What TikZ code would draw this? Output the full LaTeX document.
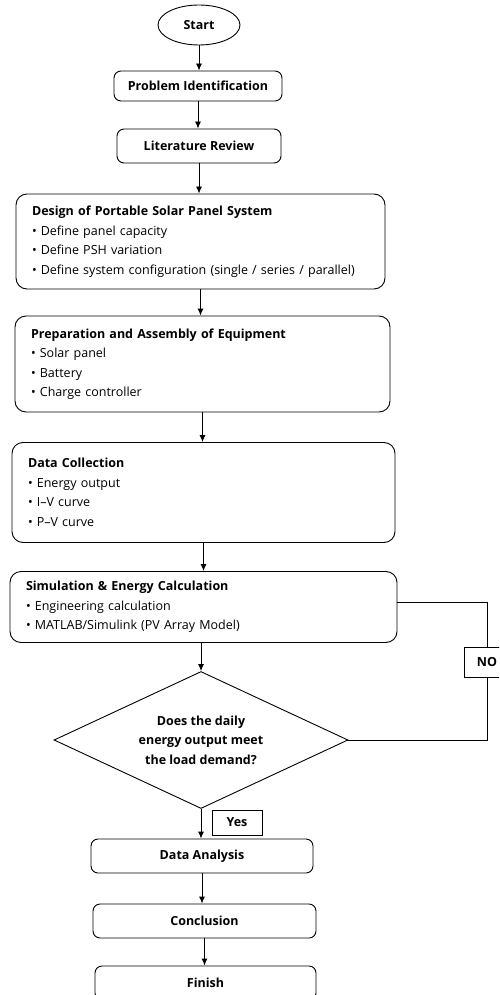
\documentclass[tikz,border=0pt]{standalone}
\usepackage{fontspec}
\setmainfont{Open Sans}
\usetikzlibrary{shapes.geometric,arrows.meta}

\begin{document}
\begin{tikzpicture}[x=1pt,y=-1pt,
	box/.style={draw, line width=0.9pt, rounded corners=7pt, inner sep=0pt, font=\fontsize{12.5}{14}\selectfont\bfseries},
	listbox/.style={draw, line width=0.9pt, rounded corners=11pt, inner xsep=16pt, inner ysep=0pt, align=left, text width=#1, font=\fontsize{12.5}{19.5}\selectfont},
	pile/.style={line width=0.9pt, -{Latex[length=7pt,width=6pt]}},
	tag/.style={draw, line width=0.9pt, inner sep=0pt, font=\fontsize{12.5}{14}\selectfont\bfseries}]

	\useasboundingbox (0,0) rectangle (499,995);
	\clip (0,0) rectangle (499,995);

	% Top of the flow
	\node[box, ellipse, minimum width=82pt, minimum height=40pt] (start) at (199,25) {Start};
	\node[box, minimum width=168pt, minimum height=30pt] (prob) at (198,86) {Problem Identification};
	\node[box, minimum width=164pt, minimum height=34pt] (lit) at (199,146) {Literature Review};

	% List boxes
	\node[listbox=337pt, minimum width=369pt, minimum height=95pt] (design) at (200.5,241.5) {\textbf{Design of Portable Solar Panel System}\\
		\textbullet\ Define panel capacity\\
		\textbullet\ Define PSH variation\\
		\textbullet\ Define system configuration (single / series / parallel)};
	\node[listbox=343pt, minimum width=375pt, minimum height=96pt] (prep) at (202.5,364) {\textbf{Preparation and Assembly of Equipment}\\
		\textbullet\ Solar panel\\
		\textbullet\ Battery\\
		\textbullet\ Charge controller};
	\node[listbox=351pt, minimum width=383pt, minimum height=100pt] (data) at (203.5,492.5) {\textbf{Data Collection}\\
		\textbullet\ Energy output\\
		\textbullet\ I--V curve\\
		\textbullet\ P--V curve};
	\node[listbox=355pt, minimum width=387pt, minimum height=71pt] (sim) at (203.5,607) {\textbf{Simulation \& Energy Calculation}\\
		\textbullet\ Engineering calculation\\
		\textbullet\ MATLAB/Simulink (PV Array Model)};

	% Decision
	\node[draw, diamond, line width=0.9pt, aspect=2.15, inner sep=0pt, minimum width=294pt, minimum height=137pt, align=center, font=\fontsize{12.5}{19.5}\selectfont\bfseries] (check) at (201,740) {Does the daily\\energy output meet\\the load demand?};
	\node[tag, minimum width=46pt, minimum height=30pt] (no) at (487,662) {NO};
	\node[tag, minimum width=50pt, minimum height=25pt] (yes) at (237,822.5) {Yes};

	% Bottom of the flow
	\node[box, minimum width=222pt, minimum height=34pt] (ana) at (202,856) {Data Analysis};
	\node[box, minimum width=223pt, minimum height=34pt] (conc) at (204.5,921) {Conclusion};
	\node[box, minimum width=221pt, minimum height=34pt] (fin) at (205.5,983) {Finish};

	% Arrows
	\draw[pile] (start.south) -- (start.south |- prob.north);
	\draw[pile] (prob.south) -- (prob.south |- lit.north);
	\draw[pile] (lit.south) -- (lit.south |- design.north);
	\draw[pile] (design.south) -- (design.south |- prep.north);
	\draw[pile] (prep.south) -- (prep.south |- data.north);
	\draw[pile] (data.south) -- (data.south |- sim.north);
	\draw[pile] (check.north |- sim.south) -- (check.north);
	\draw[pile] (check.south) -- (check.south |- ana.north);
	\draw[pile] (ana.south) -- (ana.south |- conc.north);
	\draw[pile] (conc.south) -- (conc.south |- fin.north);

	% Loop back
	\draw[line width=0.9pt] ([yshift=5pt]sim.east) -| (no.north);
	\draw[line width=0.9pt] (no.south) |- (check.east);

\end{tikzpicture}
\end{document}
